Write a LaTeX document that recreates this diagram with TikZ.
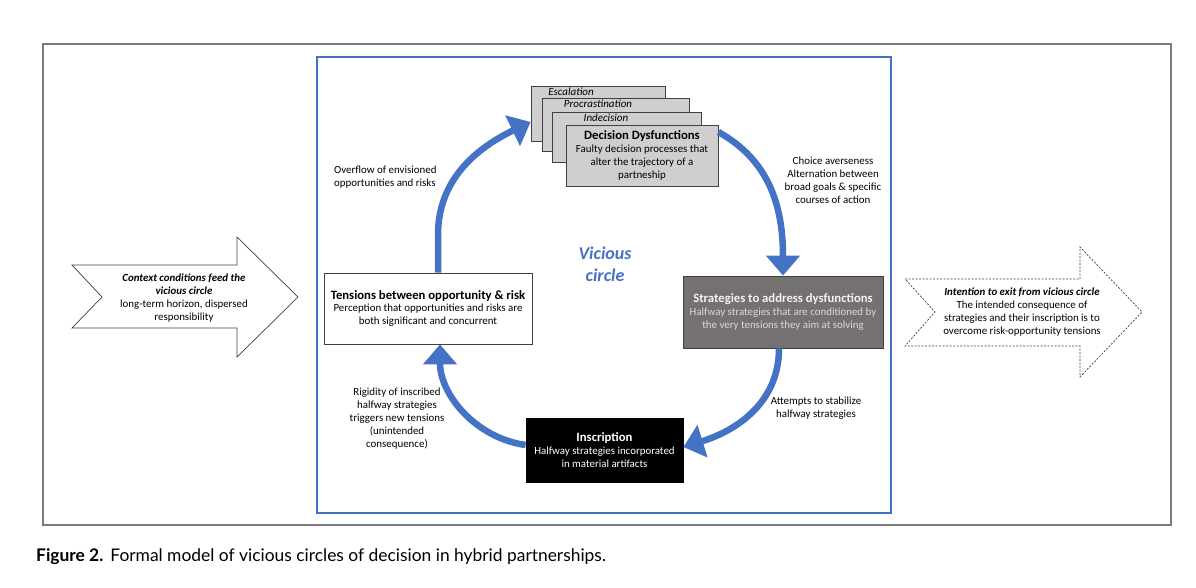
\documentclass[tikz,border=0pt]{standalone}
\usepackage{fontspec}
\setmainfont{Carlito}
\newfontfamily\capfont{Lato}
\usetikzlibrary{arrows.meta}
\definecolor{vblue}{HTML}{4472C4}
\definecolor{framegray}{HTML}{7A7A7A}
\definecolor{stackgray}{HTML}{D0CECE}
\definecolor{stratgray}{HTML}{767171}
\definecolor{edgegray}{HTML}{404040}
\begin{document}
\begin{tikzpicture}[x=1pt,y=-1pt,
  sm/.style={font=\fontsize{10.9}{13}\selectfont, align=center, inner sep=0pt},
  flow/.style={draw=vblue, line width=6.5pt, -{Triangle[length=20pt,width=33pt]}},
  stackbox/.style={draw=edgegray, fill=stackgray, line width=0.8pt, inner sep=0pt},
  mainbox/.style={line width=0.8pt, inner sep=0pt, align=center,
    font=\fontsize{10.9}{13}\selectfont},
  lbl/.style={font=\fontsize{11}{12}\itshape, inner sep=0pt},
  bigarrow/.style={draw=edgegray, fill=white, line width=0.7pt}
]
\useasboundingbox (0,0) rectangle (1196,587);
\newcommand{\ttl}{\fontsize{12.7}{15}\bfseries}

% frames
\draw[framegray, line width=1.5pt] (43,44) rectangle (1171,525);
\draw[vblue, line width=2.5pt] (317,57) rectangle (891,513);

% side arrows
\draw[bigarrow] (72,265) -- (237,265) -- (237,237) -- (298,297) -- (237,357)
  -- (237,328) -- (72,328) -- (102,297) -- cycle;
\node[sm] (ctx) at (184,298.5) {{\bfseries\itshape Context conditions feed the}\\
  {\bfseries\itshape vicious circle}\\long-term horizon, dispersed\\responsibility};

\draw[bigarrow, dash pattern=on 2pt off 1.5pt] (905,279) -- (1080,279) -- (1080,247)
  -- (1142,312) -- (1080,377) -- (1080,346) -- (905,346) -- (935,312) -- cycle;
\node[sm] (exit) at (1022,312) {{\bfseries\itshape Intention to exit from vicious circle}\\
  The intended consequence of\\strategies and their inscription is to\\overcome risk-opportunity  tensions};

% decision stack
\node[stackbox, minimum width=134pt, minimum height=55pt] (box1) at (598,113.5) {};
\node[stackbox, minimum width=147pt, minimum height=53pt] (box2) at (615.5,124.5) {};
\node[stackbox, minimum width=149pt, minimum height=50pt] (box3) at (626.5,137) {};
\node[stackbox, minimum width=152pt, minimum height=61pt, align=center,
  font=\fontsize{10.9}{13}\selectfont] (box4) at (642,155.5)
  {{\ttl Decision Dysfunctions}\\Faulty decision processes that\\alter the trajectory of a\\partneship};
\node[lbl] (esc) at (571,91.5) {Escalation};
\node[lbl] (pro) at (598,104) {Procrastination};
\node[lbl] (ind) at (606,118) {Indecision};

% other boxes
\node[mainbox, draw=edgegray, fill=white, minimum width=208pt, minimum height=71pt] (tens) at (428,308.5)
  {{\ttl Tensions between opportunity \& risk}\\[-1pt]Perception that opportunities  and risks are\\both significant and concurrent};
\node[mainbox, draw=edgegray, fill=stratgray, minimum width=200pt, minimum height=72pt, text=black!15] (strat) at (783,312)
  {{\ttl\color{white!95!black} Strategies to address dysfunctions}\\Halfway strategies that are conditioned by\\the very tensions they aim at solving};
\node[mainbox, draw=black, fill=black, minimum width=157pt, minimum height=64pt, text=white] (insc) at (604.5,450)
  {{\ttl Inscription}\\Halfway strategies incorporated\\in material artifacts};

\node[font=\fontsize{18}{22}\bfseries\itshape, text=vblue, align=center, inner sep=0pt] (vc) at (605,264) {Vicious\\circle};

% connectors
\draw[flow] ([xshift=10pt]tens.north) -- ++(0,-38) .. controls +(0,-55) and +(-54,26) .. ([yshift=-8.5pt]box1.west);
\draw[flow] ([yshift=23.5pt]box4.east) .. controls +(50,28) and +(0,-71) .. (strat.north);
\draw[flow] ([xshift=-4pt]strat.south) .. controls +(0,55) and +(52,-16) .. ([yshift=3pt]insc.east);
\draw[flow] ([yshift=5pt]insc.west) .. controls +(-50,-7) and +(0,50) .. ([xshift=12pt]tens.south);

% labels
\node[sm, align=left, anchor=west] (l1) at (334,177) {Overflow of envisioned\\opportunities  and risks};
\node[sm] (l2) at (833,180.5) {Choice averseness\\Alternation between\\broad goals \& specific\\courses of action};
\node[sm] (l3) at (816,408) {Attempts to stabilize\\halfway strategies};
\node[sm] (l4) at (397,419) {Rigidity of inscribed\\halfway strategies\\triggers new tensions\\(unintended\\consequence)};

% caption
\node[anchor=west, inner sep=0pt, font=\capfont\fontsize{17.4}{20}\selectfont] (cap) at (36,557)
  {\textbf{Figure 2.}\hspace{7pt}Formal model of vicious circles of decision in hybrid partnerships.};
\end{tikzpicture}
\end{document}
